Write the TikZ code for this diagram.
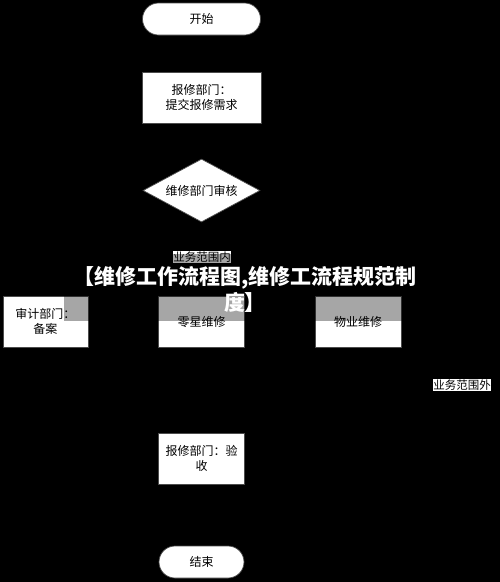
\documentclass[tikz,border=0pt]{standalone}
\usepackage{fontspec}
\setmainfont{Noto Sans CJK SC}
\usetikzlibrary{shapes.geometric}
\begin{document}
\begin{tikzpicture}[x=1pt,y=-1pt,
  box/.style={draw=black!70, fill=white, line width=0.7pt, rectangle, inner sep=0pt,
    align=center, font=\fontsize{12}{14.5}\selectfont},
  term/.style={box, rounded corners=16pt},
  decision/.style={diamond, draw=black!70, fill=white, line width=0.7pt, inner sep=0pt,
    aspect=1.857, minimum width=117pt, minimum height=63pt, font=\fontsize{12}{14.5}\selectfont},
  tag/.style={fill=white, inner sep=0.6pt, font=\fontsize{11.5}{13}\selectfont},
  title/.style={text=white, align=center, font=\fontsize{21}{26}\selectfont\bfseries}
]
\fill[black] (0,0) rectangle (500,582);
\useasboundingbox (0,0) rectangle (500,582);

\node[term, minimum width=118pt, minimum height=32pt] (start) at (201.5,19) {开始};
\node[box, minimum width=119pt, minimum height=51pt] (req) at (201.5,97.5) {报修部门：\\提交报修需求};
\node[decision] (rev) at (201.5,190.5) {维修部门审核};
\node[tag] (inlab) at (202,257) {业务范围内};
\node[box, minimum width=85pt, minimum height=51pt] (audit) at (45.5,321.5) {审计部门：\\备案};
\node[box, minimum width=86pt, minimum height=51pt] (small) at (201.5,321.5) {零星维修};
\node[box, minimum width=86pt, minimum height=51pt] (prop) at (358,321.5) {物业维修};
\node[tag] (outlab) at (462,385) {业务范围外};
\node[box, minimum width=86pt, minimum height=51pt] (check) at (201.5,458.5) {报修部门：验\\收};
\node[term, minimum width=85pt, minimum height=32pt] (end) at (201.5,562) {结束};

\fill[black, opacity=0.35] (64,254) rectangle (436,321);
\node[title] (ttl) at (245,289) {【维修工作流程图,维修工流程规范制\\度】};
\end{tikzpicture}
\end{document}
